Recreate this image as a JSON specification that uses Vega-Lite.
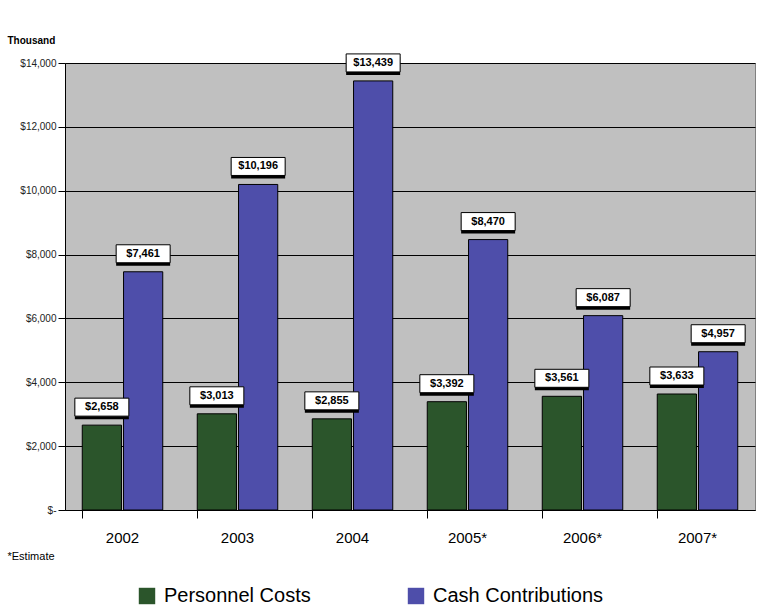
{
  "$schema": "https://vega.github.io/schema/vega-lite/v6.json",
  "width": 690,
  "height": 447,
  "autosize": {"type": "none"},
  "padding": {"left": 65, "top": 63, "right": 9, "bottom": 101},
  "background": "white",
  "config": {
    "font": "Liberation Sans",
    "view": {"fill": "#c0c0c0", "stroke": "#808080"},
    "axis": {"labelFont": "Liberation Sans", "titleFont": "Liberation Sans"}
  },
  "data": {
    "values": [
      {"year": "2002", "series": "Personnel Costs", "value": 2658},
      {"year": "2002", "series": "Cash Contributions", "value": 7461},
      {"year": "2003", "series": "Personnel Costs", "value": 3013},
      {"year": "2003", "series": "Cash Contributions", "value": 10196},
      {"year": "2004", "series": "Personnel Costs", "value": 2855},
      {"year": "2004", "series": "Cash Contributions", "value": 13439},
      {"year": "2005*", "series": "Personnel Costs", "value": 3392},
      {"year": "2005*", "series": "Cash Contributions", "value": 8470},
      {"year": "2006*", "series": "Personnel Costs", "value": 3561},
      {"year": "2006*", "series": "Cash Contributions", "value": 6087},
      {"year": "2007*", "series": "Personnel Costs", "value": 3633},
      {"year": "2007*", "series": "Cash Contributions", "value": 4957}
    ]
  },
  "encoding": {
    "x": {
      "field": "year",
      "type": "nominal",
      "sort": null,
      "scale": {"paddingInner": 0.3, "paddingOuter": 0.15},
      "axis": {
        "title": "*Estimate",
        "titleAnchor": "start",
        "titleAlign": "left",
        "titleX": -58,
        "titleY": 40,
        "titleFontSize": 11,
        "titleFontWeight": "normal",
        "titleColor": "#000",
        "labelAngle": 0,
        "labelFontSize": 15,
        "labelColor": "#000",
        "labelPadding": 12,
        "bandPosition": 0,
        "tickColor": "#000",
        "tickSize": 8,
        "domainColor": "#000"
      }
    },
    "xOffset": {
      "field": "series",
      "type": "nominal",
      "sort": ["Personnel Costs", "Cash Contributions"],
      "scale": {"paddingInner": 0.05}
    },
    "y": {
      "field": "value",
      "type": "quantitative",
      "scale": {"domain": [0, 14000]},
      "axis": {
        "values": [0, 2000, 4000, 6000, 8000, 10000, 12000, 14000],
        "labelExpr": "datum.value == 0 ? '$-' : '$' + format(datum.value, ',')",
        "labelFontSize": 10,
        "labelColor": "#222",
        "tickColor": "#000",
        "tickSize": 7,
        "domainColor": "#000",
        "gridColor": "#000",
        "gridWidth": 1,
        "title": "Thousand",
        "titleAngle": 0,
        "titleAlign": "left",
        "titleBaseline": "bottom",
        "titleFontSize": 10,
        "titleFontWeight": "bold",
        "titleX": -58,
        "titleY": -18
      }
    }
  },
  "layer": [
    {
      "mark": {"type": "bar", "stroke": "#000", "strokeWidth": 1},
      "encoding": {
        "color": {
          "field": "series",
          "type": "nominal",
          "sort": ["Personnel Costs", "Cash Contributions"],
          "scale": {"domain": ["Personnel Costs", "Cash Contributions"], "range": ["#2b552b", "#4e4eaa"]},
          "legend": {
            "title": null,
            "orient": "none",
            "legendX": 72,
            "legendY": 523,
            "direction": "horizontal",
            "symbolType": "square",
            "symbolSize": 270,
            "symbolStrokeWidth": 0,
            "labelFontSize": 20,
            "labelLimit": 400,
            "labelColor": "#000",
            "columnPadding": 95,
            "labelOffset": 7
          }
        }
      }
    },
    {
      "mark": {"type": "tick", "color": "#000", "opacity": 1, "size": 54, "thickness": 18, "yOffset": -15, "xOffset": 3},
      "encoding": {}
    },
    {
      "mark": {"type": "tick", "color": "#fff", "opacity": 1, "stroke": "#000", "strokeWidth": 1, "size": 54, "thickness": 18, "yOffset": -18},
      "encoding": {}
    },
    {
      "mark": {"type": "text", "fontWeight": "bold", "fontSize": 11, "color": "#000", "yOffset": -18, "baseline": "middle"},
      "encoding": {
        "text": {"field": "value", "type": "quantitative", "format": "$,.0f"}
      }
    }
  ]
}
